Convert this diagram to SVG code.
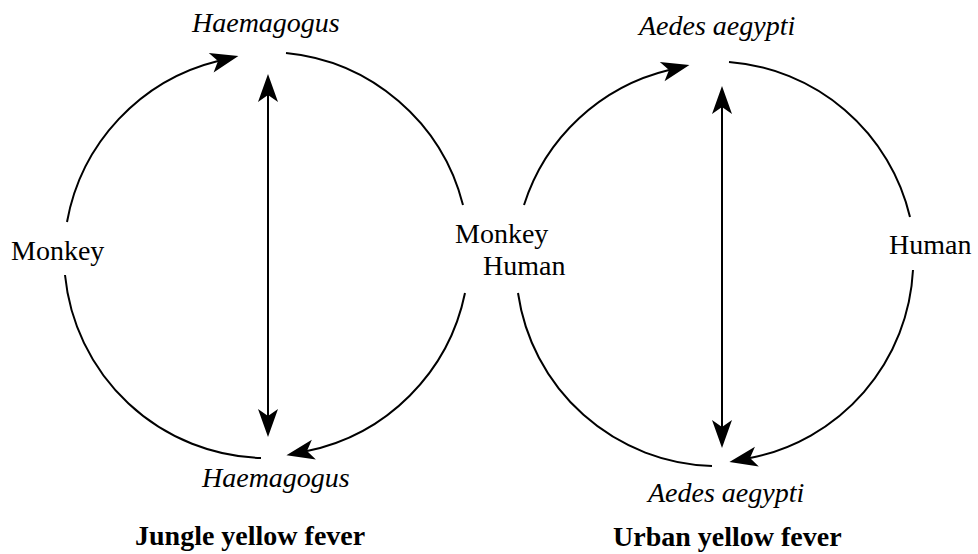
<svg xmlns="http://www.w3.org/2000/svg" width="978" height="554" viewBox="0 0 978 554">
<style>
.c{fill:none;stroke:#000;stroke-width:2}
.t{font-family:"Liberation Serif","Times New Roman",serif;font-size:28px;fill:#000}
.i{font-style:italic}
.b{font-weight:bold}
</style>
<defs>
<marker id="ah" viewBox="-8 -11 30 22" refX="0" refY="0" markerWidth="30" markerHeight="22" markerUnits="userSpaceOnUse" orient="auto-start-reverse" overflow="visible">
<path d="M21,0 L-7,-10 L0,0 L-7,10 Z" fill="#000"/>
</marker>
</defs>
<rect width="978" height="554" fill="#fff"/>
<g id="connectors">
<path class="c" d="M67,222 A203,203 0 0,1 218,61" marker-end="url(#ah)"/>
<path class="c" d="M286,53 A203,203 0 0,1 463,205"/>
<path class="c" d="M465,293 A203,203 0 0,1 307,451" marker-end="url(#ah)"/>
<path class="c" d="M65,275 A203,203 0 0,0 261,458"/>
<path class="c" d="M268,95 L268,416" marker-start="url(#ah)" marker-end="url(#ah)"/>
<path class="c" d="M524,205 A202,202 0 0,1 669,70" marker-end="url(#ah)"/>
<path class="c" d="M729,62 A202,202 0 0,1 910,217"/>
<path class="c" d="M913,270 A202,202 0 0,1 750,458" marker-end="url(#ah)"/>
<path class="c" d="M518,293 A202,202 0 0,0 712,466"/>
<path class="c" d="M722,107 L722,427" marker-start="url(#ah)" marker-end="url(#ah)"/>
</g>
<g id="haemagogus-top"><text class="t i" x="192" y="32">Haemagogus</text></g>
<g id="haemagogus-bottom"><text class="t i" x="202" y="487">Haemagogus</text></g>
<g id="monkey-left"><text class="t" x="11" y="260">Monkey</text></g>
<g id="monkey-human"><text class="t" x="455" y="243">Monkey</text><text class="t" x="483" y="275">Human</text></g>
<g id="human-right"><text class="t" x="889" y="254">Human</text></g>
<g id="aedes-top"><text class="t i" x="639" y="35">Aedes aegypti</text></g>
<g id="aedes-bottom"><text class="t i" x="648" y="502">Aedes aegypti</text></g>
<g id="title-jungle"><text class="t b" x="135" y="545">Jungle yellow fever</text></g>
<g id="title-urban"><text class="t b" x="613" y="546">Urban yellow fever</text></g>
</svg>
